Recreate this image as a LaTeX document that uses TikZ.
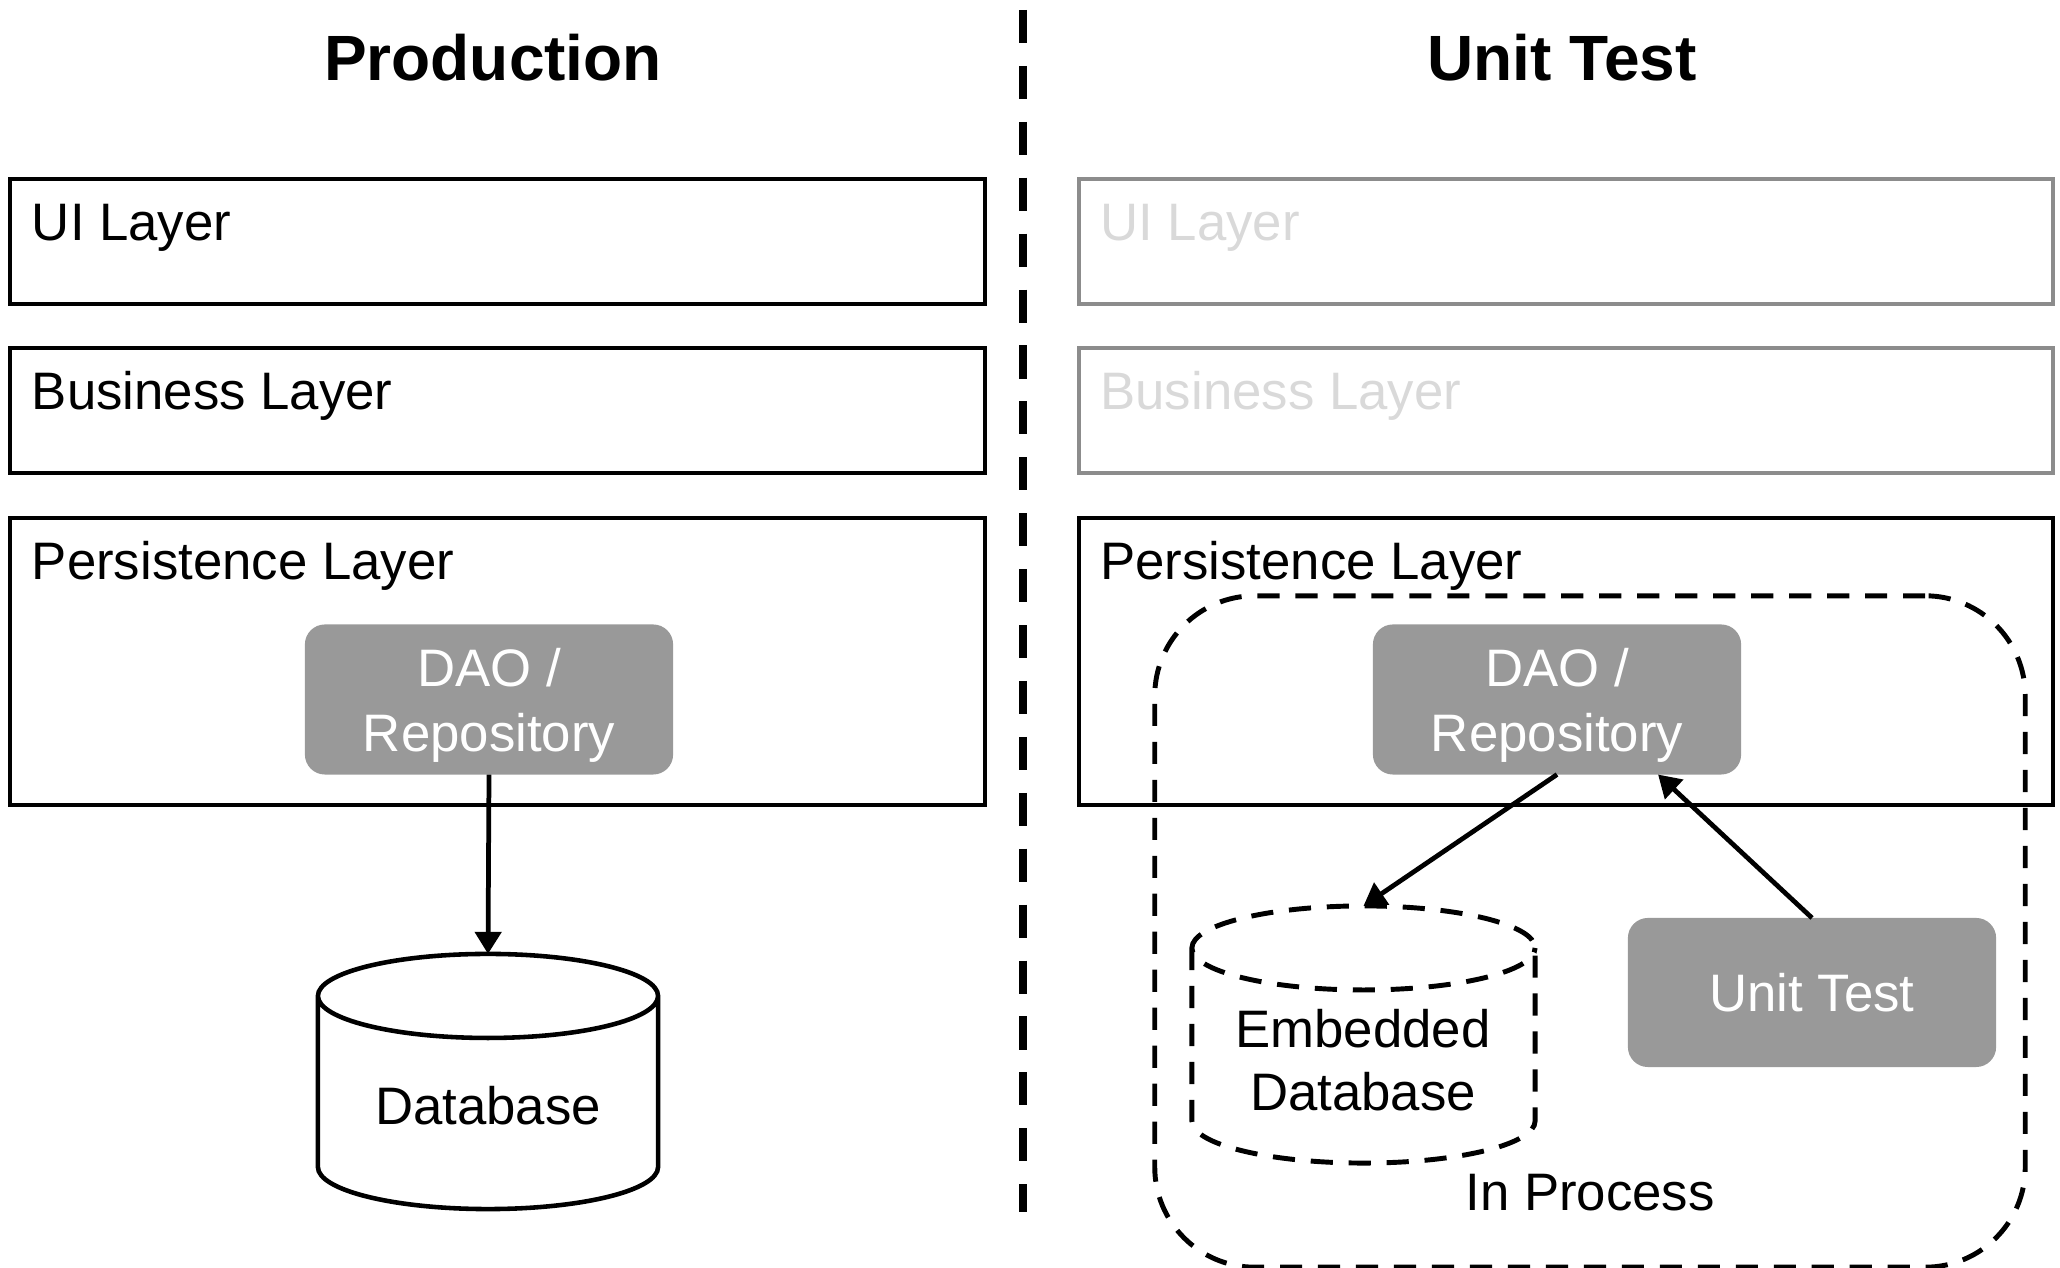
\documentclass[tikz,border=0pt]{standalone}
\usepackage{fontspec}
\setmainfont{Liberation Sans}
\usepackage{xcolor}
\usepackage{tikz}
\usetikzlibrary{arrows.meta,positioning}

\begin{document}
\begin{tikzpicture}
            [x=0.01cm,y=-0.01cm,
             title/.style={font=\fontsize{18.2}{22}\selectfont\bfseries,anchor=base,inner sep=0},
             layer box/.style={draw=black,line width=1.15pt,minimum width=9.74cm,inner sep=0,outer sep=0},
             faded box/.style={layer box,draw=black!45},
             layer label/.style={font=\fontsize{15}{17}\selectfont,anchor=base west,inner sep=0},
             gray node/.style={fill=black!40,text=white,rounded corners=0.2cm,minimum width=3.68cm,minimum height=1.5cm,
                               font=\fontsize{15}{18.3}\selectfont,align=center,inner sep=0,outer sep=0},
             db box/.style={minimum width=3.4cm,minimum height=2.55cm,inner sep=0,outer sep=0},
             plain text/.style={font=\fontsize{15}{17}\selectfont,align=center,inner sep=0},
             flow/.style={line width=1.35pt,-{Triangle[length=0.22cm,width=0.26cm]}},
             dash line/.style={line width=1.4pt,dash pattern=on 6.3pt off 4.5pt}]
            \useasboundingbox (0,0) rectangle (2060,1268);

            % titles and separator
            \node[title] (prodTitle) at (493,81) {Production};
            \node[title] (testTitle) at (1562,81) {Unit Test};
            \coordinate (sepTop) at (1023,10);
            \coordinate (sepBot) at (1023,1212);
            \draw[line width=2.3pt,dash pattern=on 9.4pt off 6.5pt] (sepTop) -- (sepBot);

            % production side
            \node[layer box,minimum height=1.25cm] (uiP) at (497.5,241.5) {};
            \node[layer box,minimum height=1.25cm] (bizP) at (497.5,410.5) {};
            \node[layer box,minimum height=2.87cm] (persP) at (497.5,661.5) {};
            \node[layer label] (uiPl) at ([shift={(21,62)}]uiP.north west) {UI Layer};
            \node[layer label] (bizPl) at ([shift={(21,62)}]bizP.north west) {Business Layer};
            \node[layer label] (persPl) at ([shift={(21,62)}]persP.north west) {Persistence Layer};
            \node[gray node] (daoP) at (489,699.5) {};
            \node[gray node,fill=none,minimum size=0pt] (daoPl) at ([yshift=-0.06cm]daoP.center) {DAO /\\Repository};
            \node[db box] (db) at (488,1081.5) {};
            \draw[line width=1.3pt] ([yshift=-0.42cm]db.north west) -- ([yshift=0.42cm]db.south west)
                arc[start angle=180,end angle=360,x radius=1.7cm,y radius=0.42cm]
                -- ([yshift=-0.42cm]db.north east)
                arc[start angle=0,end angle=360,x radius=1.7cm,y radius=0.42cm];
            \node[plain text] (dbl) at (488,1106) {Database};
            \draw[flow] (daoP.south) -- (db.north);

            % unit test side
            \node[faded box,minimum height=1.25cm] (uiT) at (1566,241.5) {};
            \node[faded box,minimum height=1.25cm] (bizT) at (1566,410.5) {};
            \node[layer box,minimum height=2.87cm] (persT) at (1566,661.5) {};
            \node[layer label,text=black!15] (uiTl) at ([shift={(21,62)}]uiT.north west) {UI Layer};
            \node[layer label,text=black!15] (bizTl) at ([shift={(21,62)}]bizT.north west) {Business Layer};
            \node[layer label] (persTl) at ([shift={(21,62)}]persT.north west) {Persistence Layer};
            \node[draw,dash line,rounded corners=1cm,minimum width=8.7cm,minimum height=6.71cm,inner sep=0] (proc) at (1590,931.5) {};
            \node[plain text] (procl) at (1590,1193) {In Process};
            \node[gray node] (daoT) at (1557,699.5) {};
            \node[gray node,fill=none,minimum size=0pt] (daoTl) at ([yshift=-0.06cm]daoT.center) {DAO /\\Repository};
            \node[gray node,minimum height=1.49cm] (ut) at (1812,992.5) {Unit Test};
            \node[db box,minimum width=3.43cm,minimum height=2.57cm] (edb) at (1363.5,1034.5) {};
            \draw[dash line] ([yshift=-0.42cm]edb.north west) -- ([yshift=0.42cm]edb.south west)
                arc[start angle=180,end angle=360,x radius=1.715cm,y radius=0.42cm]
                -- ([yshift=-0.42cm]edb.north east)
                arc[start angle=0,end angle=360,x radius=1.715cm,y radius=0.42cm];
            \node[plain text,font=\fontsize{15}{18}\selectfont] (edbl) at (1363,1060) {Embedded\\Database};
            \draw[flow] (daoT.south) -- (edb.north);
            \draw[flow] (ut.north) -- ([xshift=1.01cm]daoT.south);
\end{tikzpicture}
\end{document}
